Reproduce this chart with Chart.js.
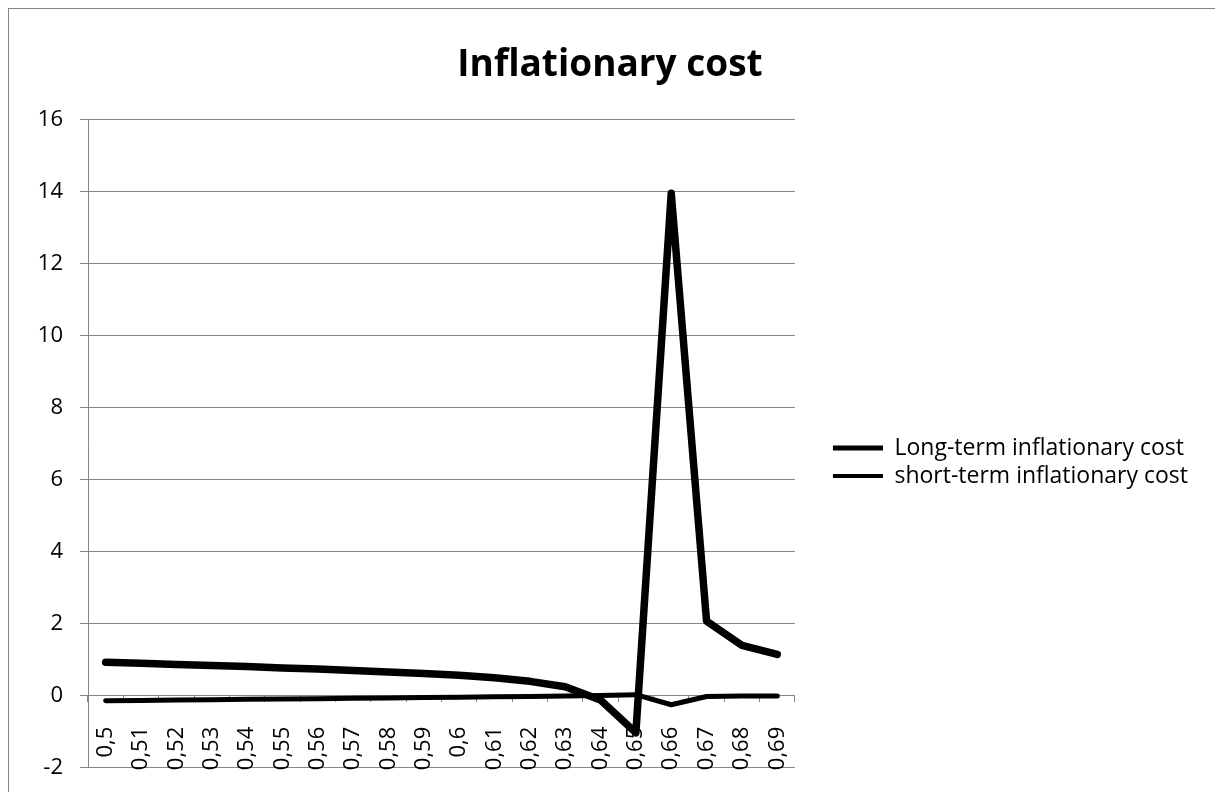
<!DOCTYPE html>
<html>
<head>
<meta charset="utf-8">
<script src="https://cdn.jsdelivr.net/npm/chart.js@4.4.1/dist/chart.umd.min.js"></script>
<style>
  html, body { margin: 0; padding: 0; background: #ffffff; overflow: hidden; }
  #wrap { position: relative; width: 1215px; height: 792px; overflow: hidden; }
  #frame { position: absolute; left: 8px; top: 8px; width: 1400px; height: 1000px; border-left: 1px solid #868686; border-top: 1px solid #868686; pointer-events: none; }
  canvas { position: absolute; left: 0; top: 0; }
</style>
</head>
<body>
<div id="wrap">
  <canvas id="c" width="1215" height="798"></canvas>
  <div id="frame"></div>
</div>
<script>
const categories = ['0,5','0,51','0,52','0,53','0,54','0,55','0,56','0,57','0,58','0,59','0,6','0,61','0,62','0,63','0,64','0,65','0,66','0,67','0,68','0,69'];
const longTermCost = [0.93, 0.90, 0.87, 0.84, 0.81, 0.77, 0.74, 0.70, 0.66, 0.62, 0.57, 0.50, 0.40, 0.25, -0.12, -1.03, 13.95, 2.07, 1.40, 1.15];
const shortTermCost = [-0.14, -0.13, -0.12, -0.11, -0.10, -0.09, -0.08, -0.07, -0.06, -0.05, -0.04, -0.03, -0.02, -0.01, 0.01, 0.03, -0.25, -0.02, -0.01, -0.01];
const seriesNames = ['Long-term inflationary cost', 'short-term inflationary cost'];
const titleText = 'Inflationary cost';
const yTicks = { min: -2, max: 16, step: 2 };

Chart.defaults.font.family = "'Open Sans', 'DejaVu Sans', sans-serif";
Chart.defaults.color = '#000000';

const gray = '#868686';
const legendLineWidths = [5, 4];

new Chart(document.getElementById('c'), {
  type: 'line',
  data: {
    labels: categories,
    datasets: [
      { label: seriesNames[0], data: longTermCost, borderColor: '#000', backgroundColor: '#000', borderWidth: 7.5, pointRadius: 0, tension: 0, borderCapStyle: 'round', borderJoinStyle: 'round', fill: false },
      { label: seriesNames[1], data: shortTermCost, borderColor: '#000', backgroundColor: '#000', borderWidth: 5, pointRadius: 0, tension: 0, borderCapStyle: 'round', borderJoinStyle: 'round', fill: false }
    ]
  },
  options: {
    responsive: false,
    animation: false,
    layout: { padding: { left: 22, right: 17, top: 0, bottom: 17 } },
    plugins: {
      tooltip: { enabled: false },
      title: {
        display: true, text: titleText, color: '#000',
        font: { size: 37, weight: 'bold' },
        padding: { top: 43, bottom: 32 }
      },
      legend: {
        position: 'right',
        align: 'center',
        maxWidth: 420,
        title: { display: true, text: ' ', padding: { top: 0, bottom: 131 }, font: { size: 10 } },
        labels: {
          usePointStyle: true, pointStyle: 'line', pointStyleWidth: 50,
          font: { size: 23 }, color: '#000', padding: 5,
          generateLabels: (chart) => Chart.defaults.plugins.legend.labels.generateLabels(chart).map((it, i) => Object.assign(it, { lineWidth: legendLineWidths[i] }))
        }
      }
    },
    scales: {
      x: {
        type: 'category',
        position: { y: 0 },
        offset: true,
        grid: { offset: true, drawOnChartArea: false, drawTicks: true, tickLength: 6, color: gray },
        border: { display: true, color: gray, width: 1 },
        ticks: { autoSkip: false, minRotation: 90, maxRotation: 90, padding: 25, font: { size: 22 }, color: '#000' }
      },
      y: {
        position: 'left',
        min: yTicks.min, max: yTicks.max,
        grid: { color: gray, tickLength: 8, drawTicks: true },
        border: { display: true, color: gray, width: 1 },
        ticks: { stepSize: yTicks.step, padding: 17, font: { size: 22 }, color: '#000' },
        afterFit: (s) => { s.width = 66; }
      },
      spacer: {
        type: 'linear', position: 'right', display: true,
        grid: { display: false, drawTicks: false }, border: { display: false },
        ticks: { display: false },
        afterFit: (s) => { s.width = 33; }
      }
    }
  }
});
</script>
</body>
</html>
